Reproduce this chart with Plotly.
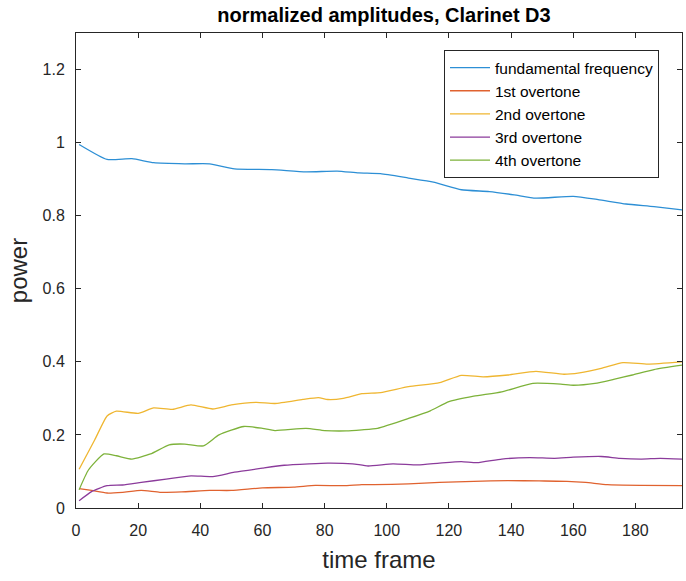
import plotly.graph_objects as go

# ---- data ----
fund_x = [1, 10, 18, 25, 35, 43, 51, 63, 74, 84, 91, 98, 107, 115, 124, 133, 141, 148, 160, 168, 177, 186, 195]
fund_y = [0.995, 0.954, 0.956, 0.945, 0.942, 0.942, 0.928, 0.926, 0.920, 0.922, 0.917, 0.915, 0.903, 0.892,
          0.871, 0.866, 0.857, 0.848, 0.853, 0.844, 0.832, 0.825, 0.816]

ov1_x = [1, 5, 10, 15, 21, 27, 34, 43, 50, 60, 70, 77, 86, 92, 96, 107, 117, 128, 139, 149, 158, 164, 171, 182, 195]
ov1_y = [0.053, 0.048, 0.041, 0.043, 0.048, 0.043, 0.044, 0.048, 0.048, 0.055, 0.057, 0.062, 0.061, 0.064,
         0.064, 0.066, 0.070, 0.073, 0.075, 0.074, 0.073, 0.070, 0.064, 0.062, 0.061]

ov2_x = [1, 6, 10, 13, 20, 25, 31, 37, 44, 50, 58, 64, 73, 78, 81, 86, 92, 98, 107, 117, 124, 131, 139, 148,
         157, 162, 169, 176, 184, 195]
ov2_y = [0.106, 0.186, 0.252, 0.265, 0.259, 0.274, 0.270, 0.282, 0.271, 0.282, 0.289, 0.286, 0.297, 0.302,
         0.297, 0.300, 0.313, 0.316, 0.332, 0.343, 0.363, 0.359, 0.364, 0.374, 0.366, 0.370, 0.382, 0.398,
         0.394, 0.400]

ov3_x = [1, 5, 10, 15, 21, 29, 37, 44, 51, 60, 67, 75, 81, 89, 94, 102, 110, 117, 124, 129, 137, 146, 154,
         160, 169, 175, 182, 188, 195]
ov3_y = [0.020, 0.045, 0.061, 0.063, 0.070, 0.079, 0.088, 0.086, 0.098, 0.109, 0.117, 0.121, 0.123, 0.121,
         0.115, 0.121, 0.118, 0.123, 0.127, 0.124, 0.134, 0.138, 0.136, 0.139, 0.141, 0.136, 0.134, 0.136, 0.134]

ov4_x = [1, 4, 9, 13, 18, 24, 30, 35, 41, 46, 54, 60, 64, 74, 80, 87, 92, 97, 107, 114, 120, 128, 137, 147,
         156, 160, 167, 173, 179, 186, 195]
ov4_y = [0.050, 0.104, 0.148, 0.143, 0.134, 0.148, 0.173, 0.175, 0.170, 0.200, 0.223, 0.218, 0.212, 0.218,
         0.212, 0.211, 0.214, 0.218, 0.245, 0.266, 0.291, 0.306, 0.318, 0.341, 0.339, 0.336, 0.341, 0.352,
         0.364, 0.379, 0.391]

names = ["fundamental frequency", "1st overtone", "2nd overtone", "3rd overtone", "4th overtone"]
colors = ["#2D8FD5", "#E0622F", "#EFB631", "#8B3B9B", "#7DB23A"]
series = [(fund_x, fund_y), (ov1_x, ov1_y), (ov2_x, ov2_y), (ov3_x, ov3_y), (ov4_x, ov4_y)]

x_ticks = [0, 20, 40, 60, 80, 100, 120, 140, 160, 180]
y_ticks = [0, 0.2, 0.4, 0.6, 0.8, 1, 1.2]

FONT = "Liberation Sans, Arial, sans-serif"
INK = "#262626"

fig = go.Figure()
for (xs, ys), name, col in zip(series, names, colors):
    fig.add_trace(go.Scatter(x=xs, y=ys, mode="lines", name=name,
                             line=dict(color=col, width=1.3, shape="spline", smoothing=0.5)))

axis_common = dict(showgrid=False, zeroline=False, showline=True, linecolor=INK, linewidth=1,
                   mirror="ticks", ticks="inside", ticklen=5, tickcolor=INK, tickwidth=1,
                   automargin=False, tickfont=dict(family=FONT, size=16, color=INK))

fig.update_layout(
    width=686, height=581,
    margin=dict(l=76, r=4, t=33, b=73, autoexpand=False),
    paper_bgcolor="white", plot_bgcolor="white",
    font=dict(family=FONT, color=INK),
    title=dict(text="<b>normalized amplitudes, Clarinet D3</b>", x=384 / 686, xanchor="center",
               y=1 - 15 / 581, yanchor="middle", yref="container", automargin=False,
               font=dict(family=FONT, size=20, color="black")),
    xaxis=dict(range=[0, 195], tickvals=x_ticks, ticklabelstandoff=8,
               title=dict(text="time frame", font=dict(family=FONT, size=24, color=INK), standoff=12),
               **axis_common),
    yaxis=dict(range=[0, 1.3], tickvals=y_ticks, ticklabelstandoff=7,
               title=dict(text="power", font=dict(family=FONT, size=24, color=INK), standoff=8),
               **axis_common),
    legend=dict(x=(659 - 76) / 606, y=(508 - 50) / 475, xanchor="right", yanchor="top", bgcolor="white",
                bordercolor=INK, borderwidth=1, font=dict(family=FONT, size=15.5, color="black"),
                tracegroupgap=0, itemwidth=40),
    showlegend=True,
)

fig.write_html("out.html", config={"displayModeBar": False},
               post_script="document.body.style.margin='0';document.body.style.overflow='hidden';")
